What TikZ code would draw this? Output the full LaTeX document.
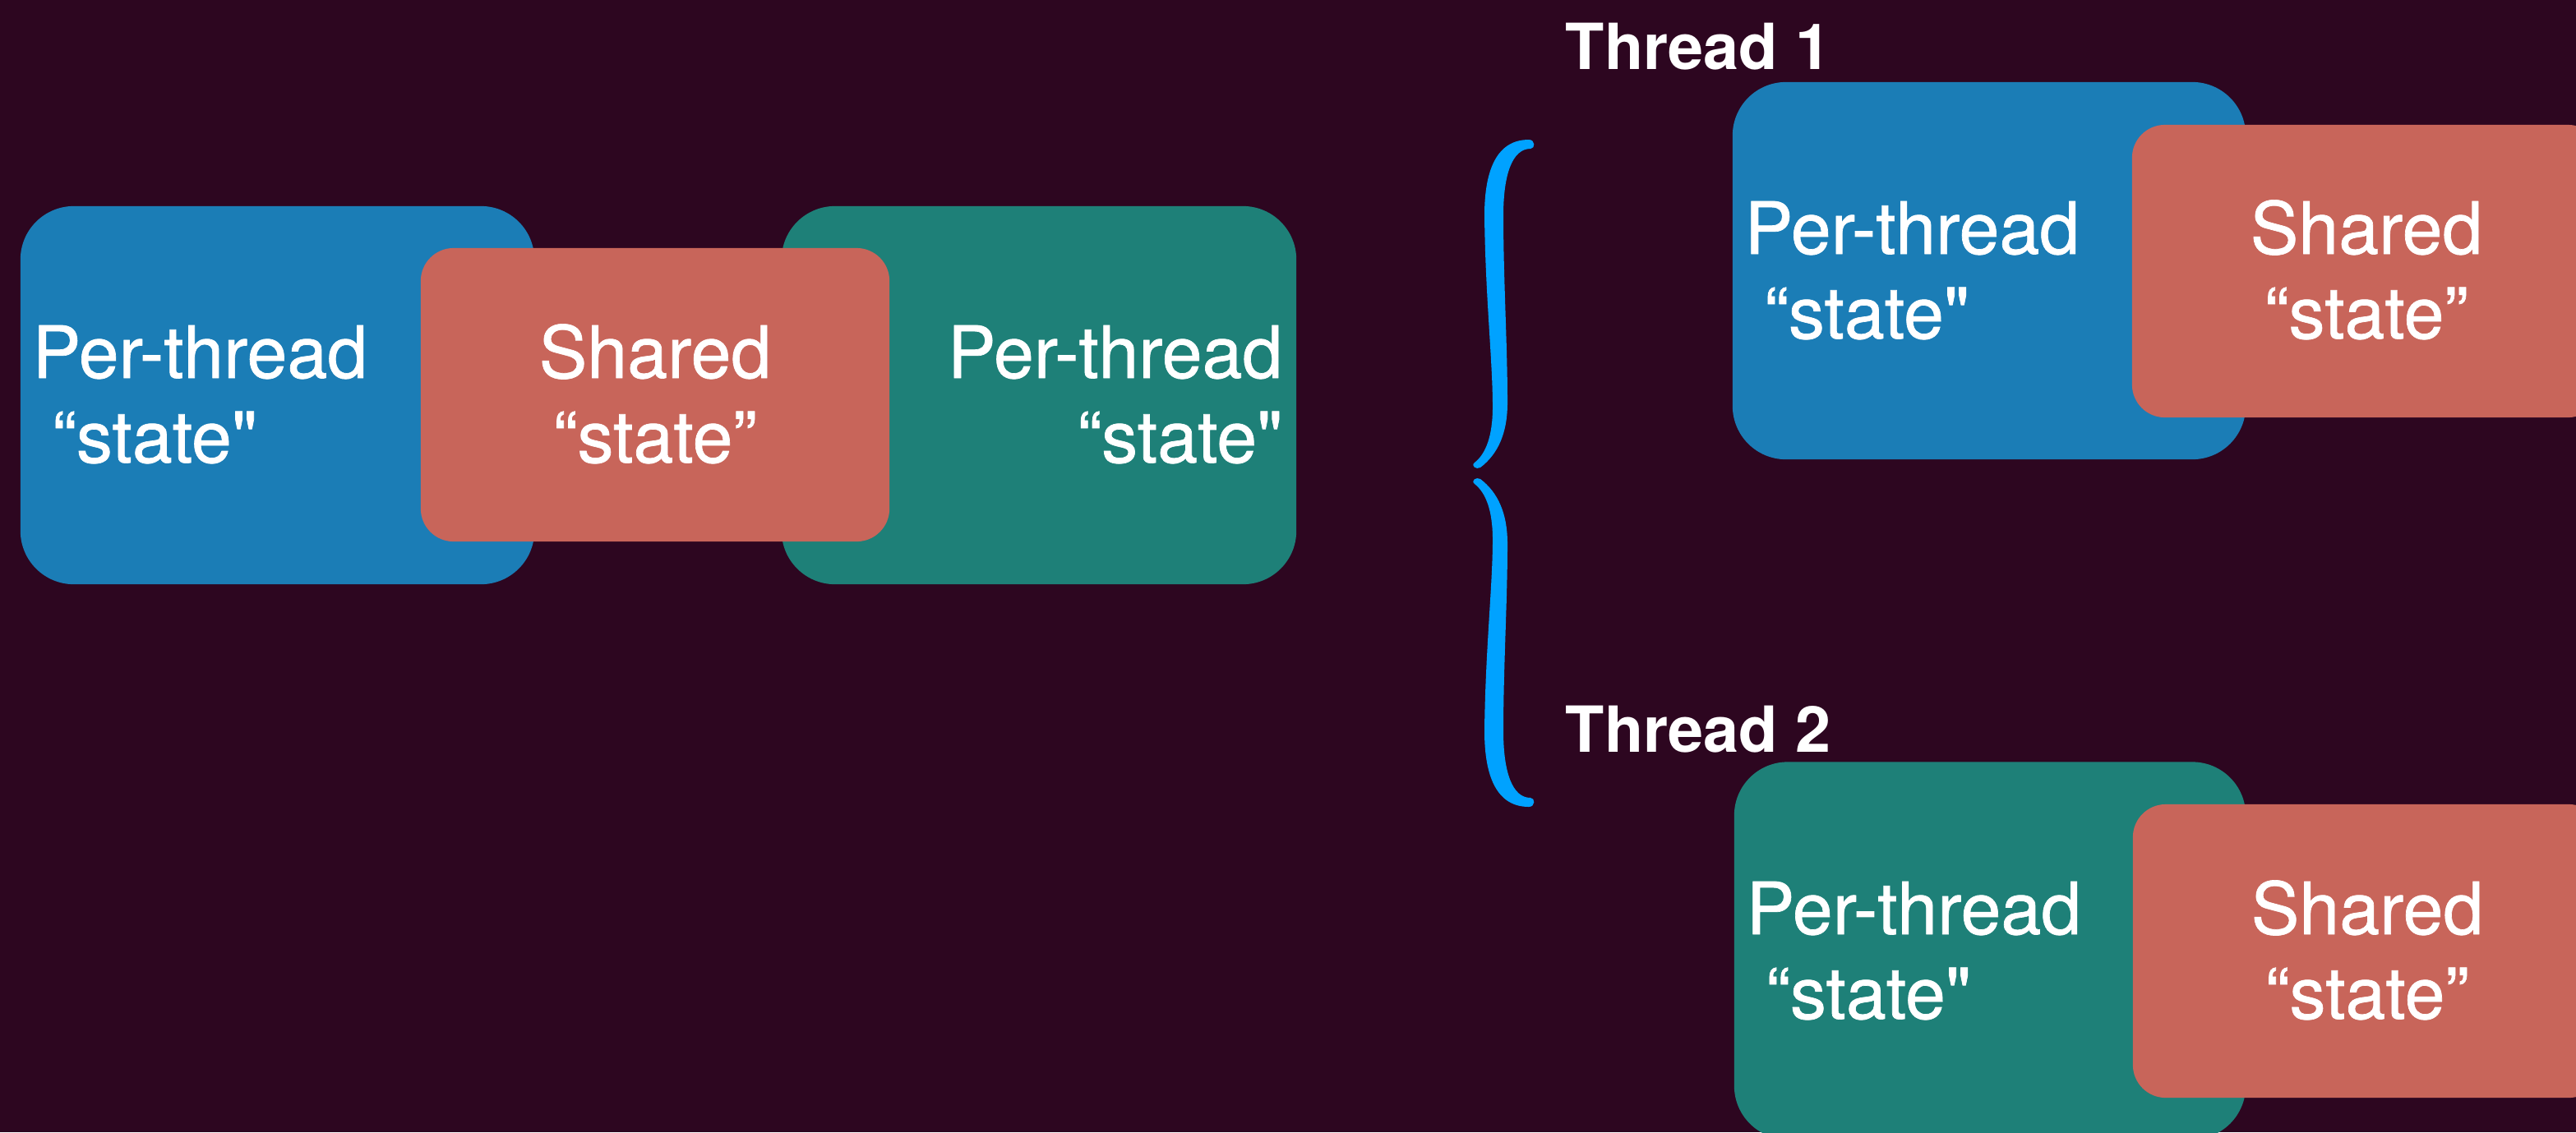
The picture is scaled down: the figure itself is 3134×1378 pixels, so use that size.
\documentclass[tikz,border=0pt]{standalone}
\usepackage{fontspec}
\setmainfont{TeX Gyre Heros}[Ligatures=TeXOff]
\newfontfamily\cardfont{TeX Gyre Heros}[Ligatures=TeXOff, FakeBold=0.8]

\definecolor{bgcol}{RGB}{45,6,32}
\definecolor{tblue}{RGB}{27,125,182}
\definecolor{tred}{RGB}{200,101,90}
\definecolor{tgreen}{RGB}{30,128,120}
\definecolor{brace}{RGB}{0,162,255}

\tikzset{
  card/.style={inner sep=0, draw=none, rounded corners=0.65cm},
  chip/.style={inner sep=0, draw=none, rounded corners=0.4cm, fill=tred},
  lbl/.style={text=white, inner sep=0, font=\cardfont\fontsize{25}{29}\selectfont},
  ttl/.style={text=white, inner sep=0, font=\bfseries\fontsize{22}{26}\selectfont},
}

\begin{document}
\begin{tikzpicture}[x=0.01cm, y=-0.01cm]
  % canvas
  \useasboundingbox (0,0) rectangle (3134,1378);
  \clip (0,0) rectangle (3134,1378);
  \fill[bgcol] (0,0) rectangle (3134,1378);

  % ---- combined view: two per-thread blocks around a shared block ----
  \node[card, fill=tblue, minimum width=6.25cm, minimum height=4.6cm] (blueA) at (337.5,481) {};
  \node[card, fill=tgreen, minimum width=6.26cm, minimum height=4.6cm] (greenA) at (1264,481) {};
  \node[chip, minimum width=5.7cm, minimum height=3.57cm] (redA) at (797,480.5) {};

  \node[lbl, anchor=base west] (pA1) at (39,460) {Per-thread};
  \node[lbl, anchor=base west] (pA2) at (63,563) {“state"};
  \node[lbl, anchor=base] (sA1) at (797,460) {Shared};
  \node[lbl, anchor=base] (sA2) at (797,563) {“state”};
  \node[lbl, anchor=base east] (gA1) at (1561,460) {Per-thread};
  \node[lbl, anchor=base east] (gA2) at (1561,563) {“state"};

  % ---- split brace ----
  \fill[brace] (1860,170)
    .. controls (1822,170) and (1806,205) .. (1806,262)
    .. controls (1807,360) and (1816,440) .. (1816,495)
    .. controls (1816,530) and (1808,552) .. (1794,563)
    .. controls (1789,567) and (1796,572) .. (1801,569)
    .. controls (1822,553) and (1834,528) .. (1834,490)
    .. controls (1834,420) and (1829,340) .. (1829,262)
    .. controls (1829,212) and (1840,181) .. (1862,181)
    .. controls (1868,181) and (1868,170) .. (1860,170) -- cycle;
  \fill[brace] (1860,982)
    .. controls (1822,982) and (1806,947) .. (1806,890)
    .. controls (1807,792) and (1816,712) .. (1816,657)
    .. controls (1816,622) and (1808,600) .. (1794,589)
    .. controls (1789,585) and (1796,580) .. (1801,583)
    .. controls (1822,599) and (1834,624) .. (1834,662)
    .. controls (1834,732) and (1829,812) .. (1829,890)
    .. controls (1829,940) and (1840,971) .. (1862,971)
    .. controls (1868,971) and (1868,982) .. (1860,982) -- cycle;

  % ---- thread 1 ----
  \node[ttl, anchor=base west] (t1) at (1904,84) {Thread 1};
  \node[card, fill=tblue, minimum width=6.24cm, minimum height=4.59cm] (blueB) at (2420,329.5) {};
  \node[chip, minimum width=5.7cm, minimum height=3.56cm] (redB) at (2879,330) {};
  \node[lbl, anchor=base west] (pB1) at (2122,309) {Per-thread};
  \node[lbl, anchor=base west] (pB2) at (2146,412) {“state"};
  \node[lbl, anchor=base] (sB1) at (2879,309) {Shared};
  \node[lbl, anchor=base] (sB2) at (2879,412) {“state”};

  % ---- thread 2 ----
  \node[ttl, anchor=base west] (t2) at (1904,915) {Thread 2};
  \node[card, fill=tgreen, minimum width=6.22cm, minimum height=4.59cm] (greenC) at (2421,1157) {};
  \node[chip, minimum width=5.7cm, minimum height=3.57cm] (redC) at (2880,1157.5) {};
  \node[lbl, anchor=base west] (pC1) at (2124,1137) {Per-thread};
  \node[lbl, anchor=base west] (pC2) at (2148,1240) {“state"};
  \node[lbl, anchor=base] (sC1) at (2880,1137) {Shared};
  \node[lbl, anchor=base] (sC2) at (2880,1240) {“state”};
\end{tikzpicture}
\end{document}
